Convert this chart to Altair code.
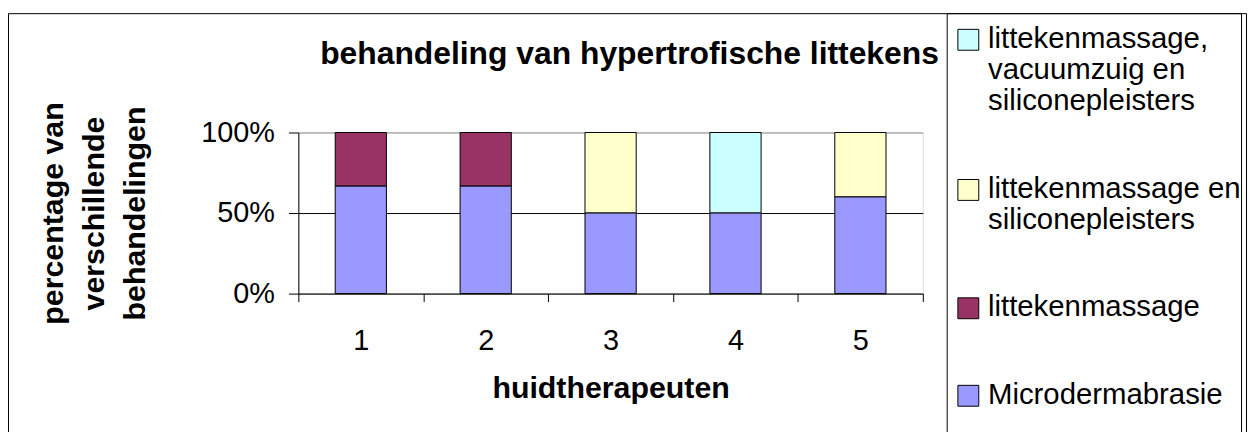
import altair as alt
import pandas as pd

# ---- data ----
therapists = ["1", "2", "3", "4", "5"]
microdermabrasie = [66.7, 66.7, 50, 50, 60]
littekenmassage = [33.3, 33.3, 0, 0, 0]
massage_siliconen = [0, 0, 50, 0, 40]
massage_vacuum_siliconen = [0, 0, 0, 50, 0]

series_names = [
    "littekenmassage,\nvacuumzuig en\nsiliconepleisters",
    "littekenmassage en\nsiliconepleisters",
    "littekenmassage",
    "Microdermabrasie",
]
series_colors = ["#CCFFFF", "#FFFFCC", "#993366", "#9999FF"]
series_values = [massage_vacuum_siliconen, massage_siliconen, littekenmassage, microdermabrasie]
stack_order = [3, 2, 1, 0]

y_ticks = [0, 0.5, 1]
y_title = ["percentage van", "verschillende", "behandelingen"]
x_title = "huidtherapeuten"
chart_title = "behandeling van hypertrofische littekens"

rows = []
for name, vals, order in zip(series_names, series_values, stack_order):
    for t, v in zip(therapists, vals):
        if v > 0:
            rows.append({"therapeut": t, "behandeling": name, "waarde": v, "volgorde": order})
df = pd.DataFrame(rows)

FONT = "Liberation Sans"

bars = alt.Chart(df).mark_bar(
    stroke="black", strokeWidth=1, width=alt.RelativeBandSize(0.41)
).encode(
    x=alt.X(
        "therapeut:N",
        sort=therapists,
        scale=alt.Scale(paddingInner=0, paddingOuter=0),
        axis=alt.Axis(
            title=x_title, labelAngle=0, tickBand="extent", tickSize=8,
            labelPadding=25, titlePadding=19, domainColor="black", tickColor="black",
            labelFontSize=29, titleFontSize=30.5,
        ),
    ),
    y=alt.Y(
        "waarde:Q",
        stack="normalize",
        scale=alt.Scale(domain=[0, 1], nice=False),
        axis=alt.Axis(
            values=y_ticks, format="%", title=y_title, tickSize=10, labelPadding=14,
            titlePadding=51, titleLineHeight=41, domainColor="black", tickColor="black",
            grid=True, gridWidth=1,
            gridColor={"condition": {"test": "datum.value === 0.5", "value": "black"}, "value": "#909090"},
            labelFontSize=29, titleFontSize=30.5,
        ),
    ),
    color=alt.Color(
        "behandeling:N",
        scale=alt.Scale(domain=series_names, range=series_colors),
        legend=alt.Legend(
            orient="none", legendX=659, legendY=-123, title=None,
            symbolType="M-1,0.43H1V2.43H-1Z", symbolSize=441, symbolStrokeColor="black",
            symbolStrokeWidth=1, symbolOpacity=1,
            labelFont=FONT, labelFontSize=29.5, labelLimit=500, labelOffset=5,
            labelExpr="split(datum.label, '\\n')", labelBaseline="top",
            rowPadding=44, padding=0,
        ),
    ),
    order=alt.Order("volgorde:Q", sort="ascending"),
)

frame_df = pd.DataFrame({"k": [0]})
title_text = alt.Chart(frame_df).mark_text(
    text=chart_title, font=FONT, fontSize=32, fontWeight="bold", color="black",
    align="center", baseline="middle",
).encode(x=alt.value(333), y=alt.value(-79))

outer_frame = alt.Chart(frame_df).mark_rect(
    fillOpacity=0, stroke="black", strokeWidth=1
).encode(
    x=alt.value(-291.5), x2=alt.value(953.5), y=alt.value(-119.5), y2=alt.value(400)
)
legend_frame = alt.Chart(frame_df).mark_rect(
    fillOpacity=0, stroke="black", strokeWidth=1
).encode(
    x=alt.value(652.5), x2=alt.value(948.5), y=alt.value(-119.5), y2=alt.value(400)
)

chart = alt.layer(bars, title_text, outer_frame, legend_frame).properties(
    width=628,
    height=162,
    autosize=alt.AutoSizeParams(type="none"),
    padding={"left": 292, "top": 124, "right": 327, "bottom": 138},
).configure_view(
    fill="#C0C0C0", stroke="#909090", strokeWidth=1
).configure_axis(
    labelFont=FONT, titleFont=FONT, labelColor="black", titleColor="black",
    titleFontWeight="bold",
).configure(background="white")

chart.save("out.html", embed_options={"renderer": "svg", "actions": False})
